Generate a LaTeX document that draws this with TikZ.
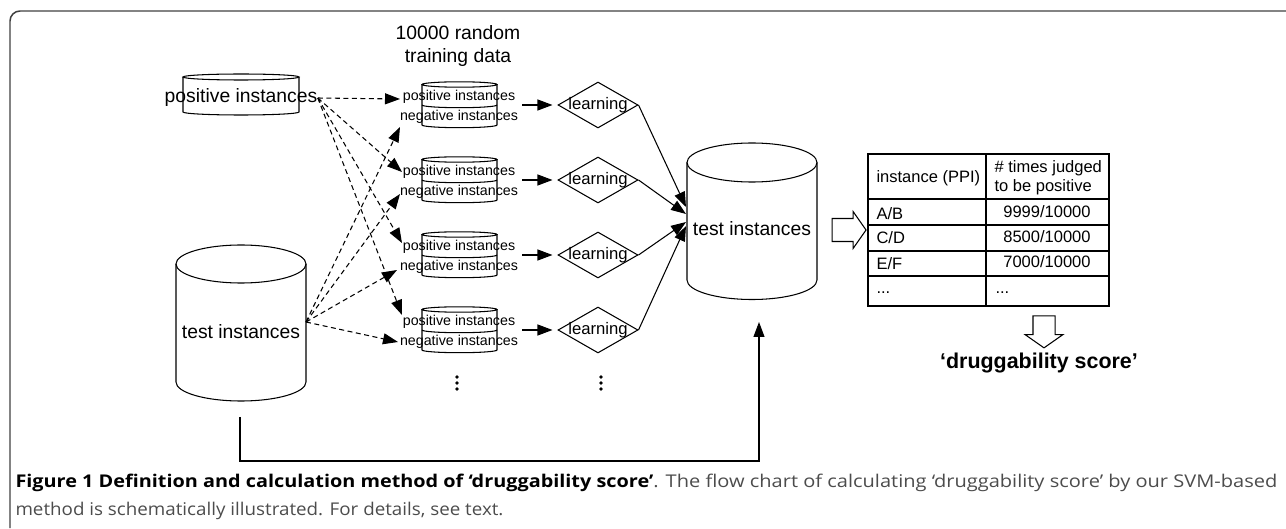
\documentclass[tikz,border=0pt]{standalone}
\usepackage{graphicx}
\usepackage{fontspec}
\setmainfont{Liberation Sans}
\newfontfamily\capfont{Open Sans}
\usetikzlibrary{arrows.meta,shapes.geometric,shapes.arrows}
\definecolor{capgray}{gray}{0.3}
\definecolor{framegray}{gray}{0.25}

\begin{document}
\begin{tikzpicture}[x=0.02cm, y=0.02cm, line width=0.6pt,
  every node/.style={inner sep=0pt},
  big/.style={font=\fontsize{11}{13}\selectfont},
  small/.style={font=\fontsize{8.1}{9}\selectfont},
  learn/.style={diamond, draw, minimum width=1.6cm, minimum height=0.92cm, font=\fontsize{9.5}{11}\selectfont},
  tab/.style={font=\fontsize{9.4}{10.8}\selectfont},
  caption/.style={anchor=base west, text=capgray, font=\capfont\fontsize{10}{15}\selectfont},
  arr/.style={-{Triangle[length=0.3cm,width=0.22cm]}},
  dasharr/.style={arr, dash pattern=on 0.1cm off 0.07cm},
  blockarr/.style={single arrow, draw, single arrow tip angle=110}]
	\useasboundingbox (0,0) rectangle (1286,528);
	\draw[framegray, line width=0.85pt, rounded corners=0.2cm] (10,0) -- (10,517) -- (1286,517);

	% source databases
	\draw (241,451) ellipse [x radius=58, y radius=3];
	\draw (183,451) -- (183,416) arc[start angle=180, end angle=360, x radius=58, y radius=3] -- (299,451);
	\node[big] (pos) at (241,430) {positive instances};

	\draw (241,264) ellipse [x radius=65, y radius=19];
	\draw (176,264) -- (176,146) arc[start angle=180, end angle=360, x radius=65, y radius=19] -- (306,264);
	\node[big] (test) at (241,196) {test instances};
	\coordinate (tsrc) at (306,206);

	% training data
	\node[big, align=center] (title) at (458,482) {10000 random\\training data};

	\draw (459.5,443.5) ellipse [x radius=37.5, y radius=2.7];
	\draw (422,423) arc[start angle=180, end angle=360, x radius=37.5, y radius=2.7];
	\draw (422,443.5) -- (422,403) arc[start angle=180, end angle=360, x radius=37.5, y radius=2.7] -- (497,443.5);
	\draw (459.5,368.5) ellipse [x radius=37.5, y radius=2.7];
	\draw (422,348) arc[start angle=180, end angle=360, x radius=37.5, y radius=2.7];
	\draw (422,368.5) -- (422,328) arc[start angle=180, end angle=360, x radius=37.5, y radius=2.7] -- (497,368.5);
	\draw (459.5,293.5) ellipse [x radius=37.5, y radius=2.7];
	\draw (422,273) arc[start angle=180, end angle=360, x radius=37.5, y radius=2.7];
	\draw (422,293.5) -- (422,253) arc[start angle=180, end angle=360, x radius=37.5, y radius=2.7] -- (497,293.5);
	\draw (459.5,218.5) ellipse [x radius=37.5, y radius=2.7];
	\draw (422,198) arc[start angle=180, end angle=360, x radius=37.5, y radius=2.7];
	\draw (422,218.5) -- (422,178) arc[start angle=180, end angle=360, x radius=37.5, y radius=2.7] -- (497,218.5);

	\node[small] (p1) at (459,431.5) {positive instances};
	\node[small] (n1) at (459,411.5) {negative instances};
	\node[small] (p2) at (459,356.5) {positive instances};
	\node[small] (n2) at (459,336.5) {negative instances};
	\node[small] (p3) at (459,281.5) {positive instances};
	\node[small] (n3) at (459,261.5) {negative instances};
	\node[small] (p4) at (459,206.5) {positive instances};
	\node[small] (n4) at (459,186.5) {negative instances};

	\coordinate (pe1) at (400,429);
	\coordinate (pe2) at (402,356);
	\coordinate (pe3) at (402,285);
	\coordinate (pe4) at (402,213);
	\coordinate (ne1) at (400,401);
	\coordinate (ne2) at (400,334);
	\coordinate (ne3) at (397,258);
	\coordinate (ne4) at (398,186);

	\draw[dasharr] (pos.east) -- (pe1);
	\draw[dasharr] (pos.east) -- (pe2);
	\draw[dasharr] (pos.east) -- (pe3);
	\draw[dasharr] (pos.east) -- (pe4);
	\draw[dasharr] (tsrc) -- (ne1);
	\draw[dasharr] (tsrc) -- (ne2);
	\draw[dasharr] (tsrc) -- (ne3);
	\draw[dasharr] (tsrc) -- (ne4);

	% learning
	\node[learn] (l1) at (598,423) {\makebox[0pt]{learning}};
	\node[learn] (l2) at (598,348) {\makebox[0pt]{learning}};
	\node[learn] (l3) at (598,273) {\makebox[0pt]{learning}};
	\node[learn] (l4) at (598,198) {\makebox[0pt]{learning}};

	\coordinate (s1) at (522,423);
	\coordinate (s2) at (522,348);
	\coordinate (s3) at (522,273);
	\coordinate (s4) at (522,198);
	\draw[arr, shorten >=0.1cm] (s1) -- (l1.west);
	\draw[arr, shorten >=0.1cm] (s2) -- (l2.west);
	\draw[arr, shorten >=0.1cm] (s3) -- (l3.west);
	\draw[arr, shorten >=0.1cm] (s4) -- (l4.west);

	% more rows
	\fill (457,151) circle (1pt);
	\fill (457,145) circle (1pt);
	\fill (457,139) circle (1pt);
	\fill (601,151) circle (1pt);
	\fill (601,145) circle (1pt);
	\fill (601,139) circle (1pt);

	% test database
	\draw (752,365.5) ellipse [x radius=65, y radius=19.5];
	\draw (687,365.5) -- (687,248) arc[start angle=180, end angle=360, x radius=65, y radius=19.5] -- (817,365.5);
	\node[big] (mid) at (752,299) {test instances};

	\coordinate (c1) at (686,321);
	\coordinate (c2) at (686,314);
	\coordinate (c3) at (686,306);
	\coordinate (c4) at (686,302);
	\draw[arr] (l1.east) -- (c1);
	\draw[arr] (l2.east) -- (c2);
	\draw[arr] (l3.east) -- (c3);
	\draw[arr] (l4.east) -- (c4);

	\coordinate (b0) at (240,111);
	\coordinate (b1) at (759,206);
	\draw[arr] (b0) -- ++(0,-44) -| (b1);

	% result table
	\node[blockarr, inner sep=0.22cm, single arrow head extend=0.14cm, minimum height=0.68cm] (toTab) at (845,298) {};
	\draw[line width=1.1pt] (868,374) rectangle (1109,222);
	\draw (986,374) -- (986,222);
	\draw (868,329) -- (1109,329);
	\draw (868,303) -- (1109,303);
	\draw (868,277) -- (1109,277);
	\draw (868,252) -- (1109,252);

	\node[tab, anchor=west] (h1) at (876,350) {instance (PPI)};
	\node[tab, anchor=west, align=left] (h2) at (994,350) {\# times judged\\to be positive};
	\node[tab, anchor=west] (r1) at (876,314) {A/B};
	\node[tab, anchor=west] (r2) at (876,290) {C/D};
	\node[tab, anchor=west] (r3) at (876,264) {E/F};
	\node[tab, anchor=base west] (r4) at (876,234) {...};
	\node[tab] (v1) at (1047,316) {9999/10000};
	\node[tab] (v2) at (1047,291) {8500/10000};
	\node[tab] (v3) at (1047,266) {7000/10000};
	\node[tab, anchor=base west] (v4) at (995,234) {...};

	\node[blockarr, inner sep=0.21cm, single arrow head extend=0.16cm, minimum height=0.64cm, shape border rotate=270] (toScore) at (1044,200) {};
	\node[font=\bfseries\fontsize{12.2}{14}\selectfont] (score) at (1039,165) {‘druggability score’};

	% caption
	\node[caption] (cap1) at (15,40) {\resizebox{12.76cm}{\height}{\color{black}\bfseries Figure 1 Definition and calculation method of ‘druggability score’}\resizebox{12.48cm}{\height}{. The flow chart of calculating ‘druggability score’ by our SVM-based}};
	\node[caption] (cap2) at (15,12) {\resizebox{9.76cm}{\height}{method is schematically illustrated. For details, see text.}};
\end{tikzpicture}
\end{document}
